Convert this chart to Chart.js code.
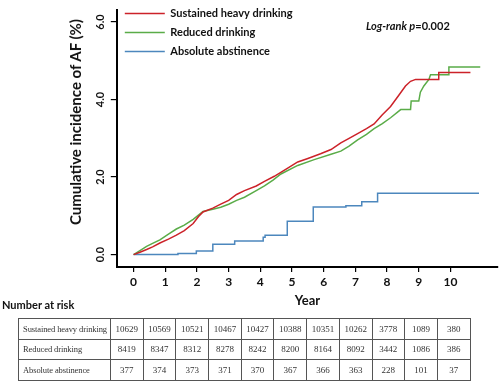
<!DOCTYPE html>
<html>
<head>
<meta charset="utf-8">
<script src="https://cdn.jsdelivr.net/npm/chart.js@4/dist/chart.umd.min.js"></script>
<style>
  html, body { margin: 0; padding: 0; background: #fff; }
  body { width: 500px; height: 381px; position: relative; overflow: hidden; font-family: Lato, "Open Sans", sans-serif; }
  #wrap { position: absolute; left: 0; top: 0; width: 500px; height: 381px; }
  #ytitle { position: absolute; left: 75px; top: 122px; transform: translate(-50%, -50%) rotate(-90deg); white-space: nowrap; font-weight: bold; font-size: 15px; color: #111; }
  #logrank { position: absolute; left: 366px; top: 19px; font-size: 11px; font-weight: bold; color: #111; white-space: nowrap; }
  #nar { position: absolute; left: 2px; top: 298px; font-size: 11px; font-weight: bold; color: #111; white-space: nowrap; }
  table { position: absolute; left: 18px; top: 318px; border-collapse: collapse; font-family: "Liberation Serif", "DejaVu Serif", serif; font-size: 9px; color: #333; table-layout: fixed; border: 1.5px solid #444; }
  td { border: 1px solid #555; height: 20.5px; padding: 0; text-align: center; width: 32.7px; box-sizing: border-box; white-space: nowrap; overflow: hidden; }
  td.grp { width: 92px; text-align: left; padding-left: 4px; font-size: 8.5px; letter-spacing: -0.1px; }
</style>
</head>
<body>
<div id="wrap"><canvas id="c" width="500" height="381"></canvas></div>
<div id="ytitle">Cumulative incidence of AF (%)</div>
<div id="logrank"><i>Log-rank p</i>=0.002</div>
<div id="nar">Number at risk</div>
<table id="risk"></table>
<script>
// ---- data ----
const seriesNames = ['Sustained heavy drinking', 'Reduced drinking', 'Absolute abstinence'];

const heavyT = [0, 0.2, 0.41, 0.6, 0.83, 1.1, 1.35, 1.6, 1.88, 2.05, 2.19, 2.5, 2.75, 3.0, 3.25, 3.5, 3.87, 4.13, 4.44, 4.8, 5.18, 5.5, 5.9, 6.23, 6.54, 6.8, 7.07, 7.35, 7.59, 7.85, 8.11, 8.37, 8.58, 8.74, 8.9, 9.63, 9.63, 10.63];
const heavyV = [0, 0.06, 0.13, 0.2, 0.30, 0.40, 0.50, 0.62, 0.80, 0.98, 1.10, 1.20, 1.30, 1.40, 1.55, 1.65, 1.77, 1.89, 2.02, 2.20, 2.39, 2.48, 2.60, 2.71, 2.88, 3.00, 3.12, 3.25, 3.37, 3.61, 3.82, 4.11, 4.35, 4.47, 4.52, 4.52, 4.70, 4.70];

const reducedT = [0, 0.2, 0.41, 0.6, 0.83, 1.1, 1.35, 1.6, 1.88, 2.19, 2.5, 2.75, 3.0, 3.25, 3.5, 3.87, 4.13, 4.4, 4.65, 5.18, 5.7, 6.23, 6.54, 6.8, 7.07, 7.35, 7.59, 7.85, 8.11, 8.43, 8.74, 8.76, 9.0, 9.05, 9.16, 9.32, 9.37, 9.95, 9.95, 10.94];
const reducedV = [0, 0.10, 0.21, 0.29, 0.38, 0.53, 0.66, 0.76, 0.91, 1.11, 1.17, 1.22, 1.30, 1.40, 1.48, 1.65, 1.77, 1.92, 2.08, 2.30, 2.45, 2.59, 2.67, 2.80, 2.96, 3.10, 3.25, 3.38, 3.53, 3.74, 3.74, 3.96, 3.96, 4.19, 4.35, 4.52, 4.64, 4.64, 4.84, 4.84];

const abstT = [0, 1.4, 1.98, 2.5, 3.19, 4.09, 4.15, 4.85, 5.67, 6.7, 7.2, 7.7, 10.9];
const abstV = [0, 0.03, 0.09, 0.27, 0.35, 0.45, 0.50, 0.86, 1.23, 1.26, 1.36, 1.58, 1.58];

const xTickValues = [0, 1, 2, 3, 4, 5, 6, 7, 8, 9, 10];
const yTickValues = [0, 2, 4, 6];

const riskHeavy = [10629, 10569, 10521, 10467, 10427, 10388, 10351, 10262, 3778, 1089, 380];
const riskReduced = [8419, 8347, 8312, 8278, 8242, 8200, 8164, 8092, 3442, 1086, 386];
const riskAbst = [377, 374, 373, 371, 370, 367, 366, 363, 228, 101, 37];
const riskLabels = ['Sustained heavy drinking', 'Reduced drinking', 'Absolute abstinence'];

// ---- table ----
const tbl = document.getElementById('risk');
[riskHeavy, riskReduced, riskAbst].forEach((row, i) => {
  const tr = document.createElement('tr');
  const th = document.createElement('td');
  th.className = 'grp';
  th.textContent = riskLabels[i];
  tr.appendChild(th);
  row.forEach(v => { const td = document.createElement('td'); td.textContent = v; tr.appendChild(td); });
  tbl.appendChild(tr);
});

// ---- chart ----
const colors = ['#cc2229', '#5aac48', '#4c87bd'];
const toPts = (t, v) => t.map((x, i) => ({ x: x, y: v[i] }));
const common = { borderWidth: 1.5, pointRadius: 0, fill: false, pointStyle: 'line' };

new Chart(document.getElementById('c'), {
  type: 'line',
  data: {
    datasets: [
      Object.assign({ label: seriesNames[0], data: toPts(heavyT, heavyV), borderColor: colors[0], backgroundColor: colors[0], stepped: false }, common),
      Object.assign({ label: seriesNames[1], data: toPts(reducedT, reducedV), borderColor: colors[1], backgroundColor: colors[1], stepped: false }, common),
      Object.assign({ label: seriesNames[2], data: toPts(abstT, abstV), borderColor: colors[2], backgroundColor: colors[2], stepped: 'before' }, common)
    ]
  },
  options: {
    responsive: false,
    animation: false,
    events: [],
    layout: { autoPadding: false, padding: { left: 91.6, right: 2, top: 0, bottom: 72 } },
    scales: {
      x: {
        type: 'linear', min: -0.53, max: 11.5,
        afterBuildTicks: s => { s.ticks = xTickValues.map(v => ({ value: v })); },
        border: { color: '#000', width: 2 },
        grid: { drawOnChartArea: false, drawTicks: true, tickLength: 5, color: '#000', lineWidth: 1.2 },
        ticks: { color: '#111', font: { family: 'Lato', weight: 'bold', size: 12 }, padding: 3, maxRotation: 0, autoSkip: false, callback: v => String(v) },
        title: { display: true, text: 'Year', color: '#111', font: { family: 'Lato', weight: 'bold', size: 13 }, padding: { top: 1, bottom: 0 } }
      },
      y: {
        type: 'linear', min: -0.32, max: 6.32,
        afterBuildTicks: s => { s.ticks = yTickValues.map(v => ({ value: v })); },
        border: { color: '#000', width: 2 },
        grid: { drawOnChartArea: false, drawTicks: true, tickLength: 6, color: '#000', lineWidth: 1.2 },
        ticks: { color: '#111', font: { family: 'Lato', weight: 'bold', size: 11 }, padding: 3, minRotation: 90, maxRotation: 90, crossAlign: 'center', callback: v => Number(v).toFixed(1) }
      }
    },
    plugins: {
      legend: {
        position: 'chartArea', align: 'start',
        labels: { usePointStyle: true, pointStyle: 'line', pointStyleWidth: 40, boxHeight: 11, padding: 8, color: '#111', font: { family: 'Lato', weight: 'bold', size: 11 } }
      },
      tooltip: { enabled: false }
    }
  }
});
</script>
</body>
</html>
